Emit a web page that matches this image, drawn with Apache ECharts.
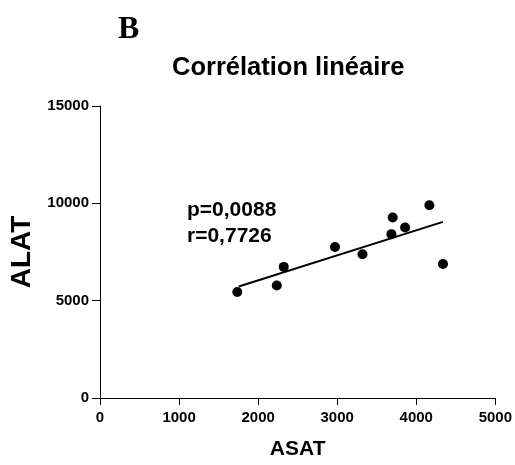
<!DOCTYPE html>
<html>
<head>
<meta charset="utf-8">
<script src="https://cdn.jsdelivr.net/npm/echarts@6/dist/echarts.min.js"></script>
<style>
  html, body { margin: 0; padding: 0; background: #fff; }
  #chart { width: 515px; height: 465px; }
</style>
</head>
<body>
<div id="chart"></div>
<script>
// ASAT (x) / ALAT (y) values
const asat = [1736, 2236, 2324, 2972, 3320, 3686, 3702, 3859, 4166, 4338]
const alat = [5444, 5781, 6735, 7755, 7381, 8418, 9270, 8759, 9898, 6888]
// regression line endpoints
const fitX = [1755, 4338]
const fitY = [5730, 9046]
const statLines = ['p=0,0088', 'r=0,7726']

const font = 'Arial, "Liberation Sans", Helvetica, sans-serif'

const chart = echarts.init(document.getElementById('chart'))
chart.setOption({
  animation: false,
  title: [
    {
      text: 'B',
      left: 113, top: 9,
      textStyle: { fontFamily: '"Liberation Serif", "DejaVu Serif", serif', fontWeight: 'bold', fontSize: 32, color: '#000' }
    },
    {
      text: 'Corrélation linéaire',
      left: 167, top: 50,
      textStyle: { fontFamily: font, fontWeight: 'bold', fontSize: 25.5, color: '#000' }
    }
  ],
  grid: { left: 100, right: 18, top: 106, bottom: 65 },
  xAxis: {
    type: 'value',
    min: 0, max: 5000, interval: 1000,
    name: 'ASAT',
    nameLocation: 'middle',
    nameGap: 41,
    nameTextStyle: { fontFamily: font, fontWeight: 'bold', fontSize: 21, color: '#000' },
    axisLine: { show: true, lineStyle: { color: '#000', width: 1 } },
    axisTick: { show: true, length: 7, lineStyle: { color: '#000' } },
    axisLabel: {
      fontFamily: font, fontWeight: 'bold', fontSize: 15, color: '#000', margin: 12,
      formatter: v => String(v)
    },
    splitLine: { show: false }
  },
  yAxis: {
    type: 'value',
    min: 0, max: 15000, interval: 5000,
    name: 'ALAT',
    nameLocation: 'middle',
    nameGap: 64,
    nameRotate: 90,
    nameTextStyle: { fontFamily: font, fontWeight: 'bold', fontSize: 28, color: '#000' },
    axisLine: { show: true, lineStyle: { color: '#000', width: 1 } },
    axisTick: { show: true, length: 8, lineStyle: { color: '#000' } },
    axisLabel: {
      fontFamily: font, fontWeight: 'bold', fontSize: 15, color: '#000', margin: 11,
      formatter: v => String(v)
    },
    splitLine: { show: false }
  },
  graphic: [
    {
      type: 'text',
      left: 187, top: 197,
      style: {
        text: statLines.join('\n'),
        font: 'bold 21px ' + font,
        lineHeight: 26,
        fill: '#000'
      }
    }
  ],
  series: [
    {
      type: 'line',
      data: fitX.map((x, i) => [x, fitY[i]]),
      symbol: 'none',
      lineStyle: { color: '#000', width: 2 },
      z: 2
    },
    {
      type: 'scatter',
      data: asat.map((x, i) => [x, alat[i]]),
      symbol: 'circle',
      symbolSize: 10,
      itemStyle: { color: '#000', opacity: 1 },
      z: 3
    }
  ]
})
</script>
</body>
</html>
